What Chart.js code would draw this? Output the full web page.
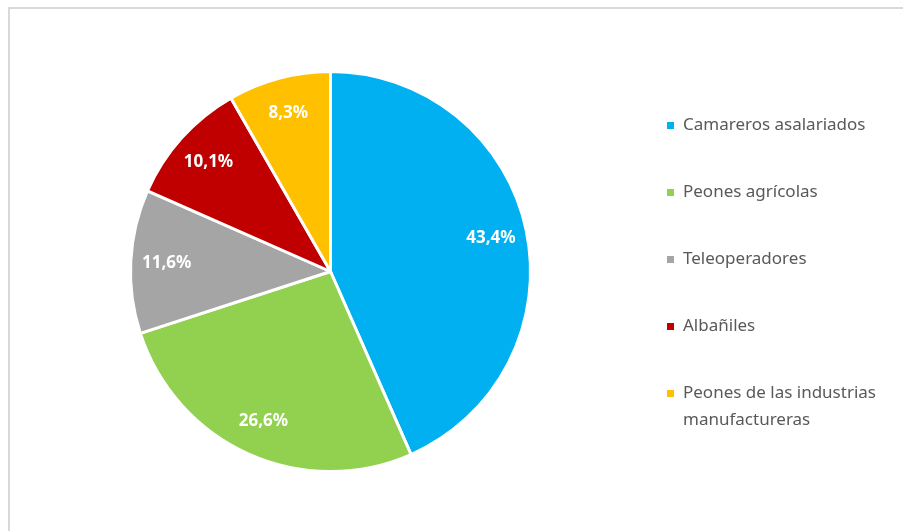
<!DOCTYPE html>
<html>
<head>
<meta charset="utf-8">
<script src="https://cdn.jsdelivr.net/npm/chart.js@4.4.1/dist/chart.umd.min.js"></script>
<style>
  html, body { margin: 0; padding: 0; background: #fff; }
  #wrap { position: relative; width: 903px; height: 531px; }
  #frame { position: absolute; left: 8px; top: 7px; right: 0; bottom: 0;
           border-left: 2px solid #d9d9d9; border-top: 2px solid #d9d9d9; }
  #chart { position: absolute; left: 0; top: 0; }
</style>
</head>
<body>
<div id="wrap">
  <div id="frame"></div>
  <canvas id="chart" width="903" height="531"></canvas>
</div>
<script>
var labels = ['Camareros asalariados', 'Peones agrícolas', 'Teleoperadores', 'Albañiles', 'Peones de las industrias manufactureras'];
var legendLines = [['Camareros asalariados'], ['Peones agrícolas'], ['Teleoperadores'], ['Albañiles'], ['Peones de las industrias', 'manufactureras']];
var values = [43.4, 26.6, 11.6, 10.1, 8.3];
var colors = ['#00B0F0', '#92D050', '#A5A5A5', '#C00000', '#FFC000'];

// porcentajes dentro de cada porcion
const sliceLabels = {
  id: 'sliceLabels',
  afterDatasetsDraw(chart) {
    const ctx = chart.ctx;
    const meta = chart.getDatasetMeta(0);
    ctx.save();
    ctx.fillStyle = '#ffffff';
    ctx.font = 'bold 17px "Noto Sans"';
    ctx.textAlign = 'center';
    ctx.textBaseline = 'middle';
    meta.data.forEach(function (arc, i) {
      const p = arc.getProps(['x', 'y', 'startAngle', 'endAngle', 'outerRadius'], true);
      const mid = (p.startAngle + p.endAngle) / 2;
      const r = p.outerRadius * 0.82;
      const txt = values[i].toFixed(1).replace('.', ',') + '%';
      ctx.fillText(txt, p.x + Math.cos(mid) * r, p.y + Math.sin(mid) * r);
    });
    ctx.restore();
  }
};

// leyenda a la derecha, estilo Excel
const sideLegend = {
  id: 'sideLegend',
  afterDraw(chart) {
    const ctx = chart.ctx;
    const x0 = 683, y0 = 125, step = 67, lh = 27;
    ctx.save();
    ctx.font = '17px "Noto Sans"';
    ctx.textBaseline = 'middle';
    legendLines.forEach(function (lines, i) {
      const y = y0 + i * step;
      ctx.fillStyle = colors[i];
      ctx.fillRect(667, y - 3, 7, 7);
      ctx.fillStyle = '#595959';
      lines.forEach(function (t, j) {
        ctx.fillText(t, x0, y + j * lh);
      });
    });
    ctx.restore();
  }
};

new Chart(document.getElementById('chart'), {
  type: 'pie',
  data: {
    labels: labels,
    datasets: [{
      data: values,
      backgroundColor: colors,
      borderColor: '#ffffff',
      borderWidth: 3,
      hoverOffset: 0
    }]
  },
  options: {
    responsive: false,
    animation: false,
    layout: { padding: { left: 129, right: 371, top: 70, bottom: 58 } },
    plugins: {
      legend: { display: false },
      tooltip: { enabled: false }
    }
  },
  plugins: [sliceLabels, sideLegend]
});
</script>
</body>
</html>
